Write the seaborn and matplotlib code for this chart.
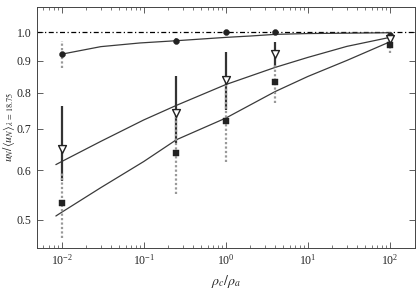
import numpy as np
import pandas as pd
import matplotlib
matplotlib.use('Agg')
import matplotlib.pyplot as plt
import matplotlib.ticker as mticker
import seaborn as sns

# density ratios sampled
ratio = [0.01, 0.25, 1.0, 4.0, 100.0]

# filled circles (top series)
circ_y = [0.922, 0.968, 1.0, 0.999, 0.990]
circ_err = [0.047, 0.012, 0.005, 0.005, 0.01]

# open down-triangles
tri_y = [0.650, 0.742, 0.839, 0.922, 0.975]
tri_hi = [0.760, 0.849, 0.931, 0.965, 0.988]
tri_lo = [0.576, 0.664, 0.751, 0.877, 0.962]

# filled squares
sq_y = [0.531, 0.640, 0.721, 0.832, 0.954]
sq_err = [0.063, 0.091, 0.103, 0.062, 0.029]

# model curves
top_x = [0.01, 0.03, 0.09, 0.25, 1, 2, 4, 10, 100]
top_y = [0.922, 0.948, 0.961, 0.969, 0.981, 0.986, 0.992, 0.995, 0.998]
mid_x = [0.0085, 0.01, 0.03, 0.1, 0.25, 1, 4, 10, 30, 100]
mid_y = [0.613, 0.620, 0.668, 0.723, 0.763, 0.824, 0.878, 0.911, 0.949, 0.981]
low_x = [0.0085, 0.01, 0.03, 0.1, 0.25, 1, 4, 10, 30, 100]
low_y = [0.507, 0.514, 0.563, 0.620, 0.672, 0.728, 0.803, 0.849, 0.901, 0.965]

sns.set_style('ticks')
plt.rcParams['font.family'] = ['Liberation Serif', 'DejaVu Serif']
plt.rcParams['mathtext.fontset'] = 'stix'

fig = plt.figure(figsize=(4.2, 2.89), dpi=100)
ax = fig.add_axes([0.088, 0.143, 0.899, 0.834])

ax.axhline(1.0, color='k', lw=0.9, dashes=(4, 2, 1, 2))

line_col = '#3a3a3a'
for cx, cy in [(top_x, top_y), (mid_x, mid_y), (low_x, low_y)]:
    sns.lineplot(x=cx, y=cy, ax=ax, color=line_col, lw=0.9, sort=False)

# error bars
tri_err = [np.array(tri_y) - np.array(tri_lo), np.array(tri_hi) - np.array(tri_y)]
eb = ax.errorbar(ratio, tri_y, yerr=tri_err, fmt='none', ecolor='#333333', elinewidth=1.6)
eb = ax.errorbar(ratio, sq_y, yerr=sq_err, fmt='none', ecolor='#999999', elinewidth=1.6)
eb[2][0].set_linestyle((0, (1, 1)))
eb = ax.errorbar(ratio, circ_y, yerr=circ_err, fmt='none', ecolor='#999999', elinewidth=1.6)
eb[2][0].set_linestyle((0, (1, 1)))

sns.scatterplot(x=ratio, y=circ_y, ax=ax, marker='o', s=18, color='#222222', edgecolor='#222222', zorder=5)
sns.scatterplot(x=ratio, y=tri_y, ax=ax, marker='v', s=32, color='white', edgecolor='#222222', linewidth=1.0, zorder=5)
sns.scatterplot(x=ratio, y=sq_y, ax=ax, marker='s', s=14, color='#222222', edgecolor='#222222', zorder=5)

ax.set_xscale('log')
ax.set_yscale('log')
ax.set_xlim(0.005, 200)
ax.set_ylim(0.451, 1.099)

yt = [0.5, 0.6, 0.7, 0.8, 0.9, 1.0]
ax.yaxis.set_major_locator(mticker.FixedLocator(yt))
ax.yaxis.set_major_formatter(mticker.FixedFormatter(['0.5', '0.6', '0.7', '0.8', '0.9', '1.0']))
ax.yaxis.set_minor_locator(mticker.NullLocator())
ax.xaxis.set_major_locator(mticker.LogLocator(base=10, numticks=10))
ax.xaxis.set_minor_locator(mticker.LogLocator(base=10, subs=np.arange(2, 10), numticks=10))

ax.tick_params(which='both', direction='in', top=True, right=True, labelsize=8.5, color='#444444')
ax.tick_params(which='major', length=4, width=0.6, pad=4)
ax.tick_params(which='minor', length=2, width=0.5)
for sp in ax.spines.values():
    sp.set_linewidth(0.7)
    sp.set_color('#444444')

ax.set_xlabel(r'$\rho_c/\rho_a$', fontsize=10)
ax.set_ylabel(r'$u_N/\langle u_N\rangle_{\lambda\,=\,18.75}$', fontsize=8.5)
ax.yaxis.set_label_coords(-0.054, 0.5)

fig.savefig('out.png', dpi=100)
